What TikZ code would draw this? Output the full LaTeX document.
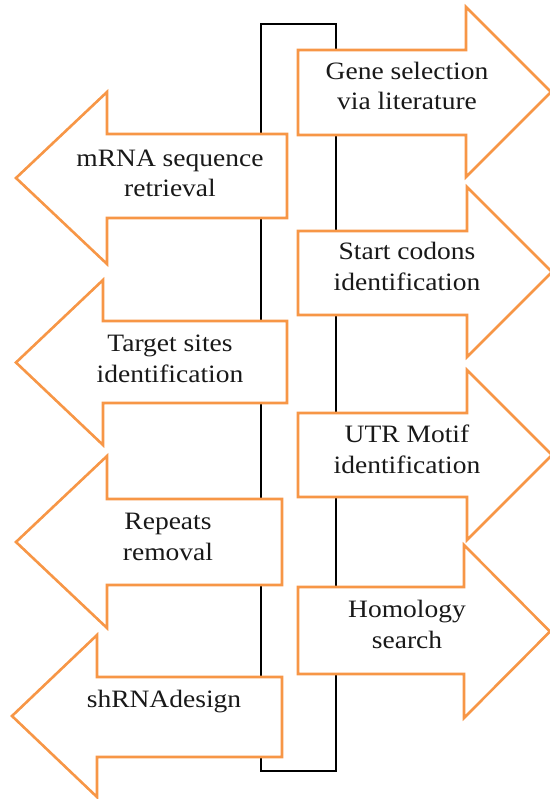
\documentclass[tikz,border=0pt]{standalone}
\usepackage{fontspec}
\setmainfont{Liberation Serif}[FakeStretch=1.1]
\definecolor{accent}{HTML}{F79646}
\tikzset{
  flowarrow/.style={draw=accent, line width=2.6pt, fill=white, line join=miter},
  loopline/.style={draw=black, line width=2.2pt},
  steplabel/.style={align=center, anchor=base, inner sep=0pt,
    font=\fontsize{25}{30.5}\selectfont, text=black!90},
}
% right-pointing block arrow: body left, body top, body bottom, head base x, head top, head bottom, tip x
\newcommand\rightblock[7]{%
  \path[flowarrow] (#1,#2) -- (#4,#2) -- (#4,#5) -- (#7,{(#5+#6)/2}) -- (#4,#6) -- (#4,#3) -- (#1,#3) -- cycle;}
% left-pointing block arrow: body right, body top, body bottom, head base x, head top, head bottom, tip x
\newcommand\leftblock[7]{%
  \path[flowarrow] (#1,#2) -- (#4,#2) -- (#4,#5) -- (#7,{(#5+#6)/2}) -- (#4,#6) -- (#4,#3) -- (#1,#3) -- cycle;}
\begin{document}
\begin{tikzpicture}[x=1pt, y=-1pt]
  \useasboundingbox (0,0) rectangle (549,799);
  % closed loop linking the two columns
  \draw[loopline] (261,24) rectangle (336,771);

  % right column
  \rightblock{298}{50}{135}{466}{7}{177}{551}
  \rightblock{298}{231}{315}{467}{187}{357}{552}
  \rightblock{298}{413}{497}{467}{370}{540}{552}
  \rightblock{298}{587}{674}{464}{545}{718}{550}

  % left column
  \leftblock{287}{134}{218}{107}{92}{264}{16}
  \leftblock{287}{321}{403}{103}{280}{445}{16}
  \leftblock{282}{499}{585}{107}{456}{628}{16}
  \leftblock{282}{677}{757}{97}{635}{797}{12}

  % labels (anchored on the baseline of the last line)
  \node[steplabel] (gene) at (407,110) {Gene selection\\via literature};
  \node[steplabel] (start) at (407,290) {Start codons\\identification};
  \node[steplabel] (utr) at (407,473) {UTR Motif\\identification};
  \node[steplabel] (homology) at (407,648) {Homology\\search};

  \node[steplabel] (mrna) at (170,197) {mRNA sequence\\retrieval};
  \node[steplabel] (target) at (170,382) {Target sites\\identification};
  \node[steplabel] (repeats) at (168,560) {Repeats\\removal};
  \node[steplabel] (shrna) at (164,707) {shRNAdesign};
\end{tikzpicture}
\end{document}
